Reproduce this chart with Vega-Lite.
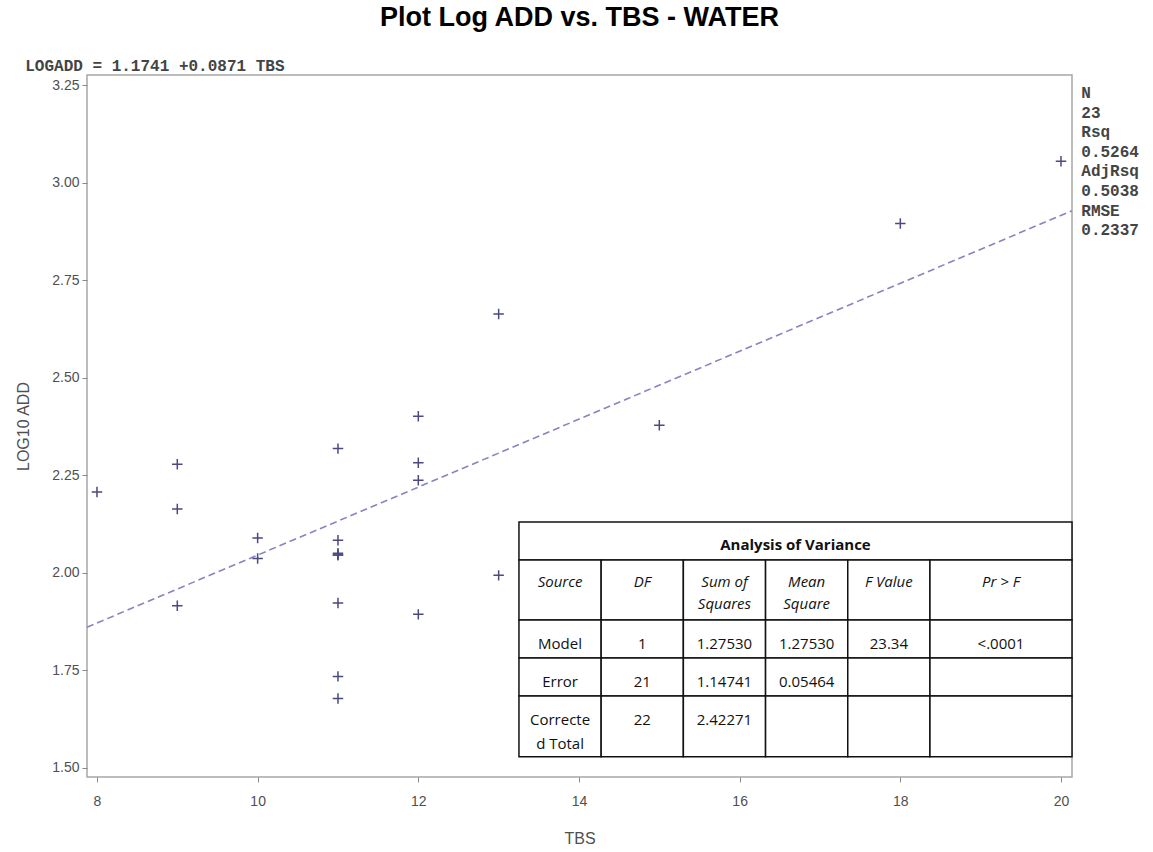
{
  "$schema": "https://vega.github.io/schema/vega-lite/v6.json",
  "width": 985,
  "height": 702,
  "autosize": {"type": "none"},
  "padding": {"left": 87, "top": 75, "right": 81, "bottom": 75},
  "background": "white",
  "title": {"text": "Plot Log ADD vs. TBS - WATER", "font": "Liberation Sans", "fontSize": 27, "fontWeight": "bold", "color": "#000000", "anchor": "middle", "frame": "group", "baseline": "alphabetic", "offset": 5},
  "config": {
    "view": {"stroke": "#a6a6a6", "strokeWidth": 1.5},
    "axis": {"domain": false, "grid": false, "tickColor": "#8a8a8a", "tickSize": 5, "labelFont": "Liberation Sans", "labelFontSize": 14, "labelColor": "#505050", "titleFont": "Liberation Sans", "titleFontSize": 16, "titleFontWeight": "normal", "titleColor": "#505050"}
  },
  "datasets": {
    "obs": [
      {"TBS": 8, "LOGADD": 2.207},
      {"TBS": 9, "LOGADD": 2.278}, {"TBS": 9, "LOGADD": 2.163}, {"TBS": 9, "LOGADD": 1.915},
      {"TBS": 10, "LOGADD": 2.089}, {"TBS": 10, "LOGADD": 2.036},
      {"TBS": 11, "LOGADD": 2.318}, {"TBS": 11, "LOGADD": 2.083}, {"TBS": 11, "LOGADD": 2.05}, {"TBS": 11, "LOGADD": 2.045}, {"TBS": 11, "LOGADD": 2.045}, {"TBS": 11, "LOGADD": 1.922}, {"TBS": 11, "LOGADD": 1.734}, {"TBS": 11, "LOGADD": 1.677},
      {"TBS": 12, "LOGADD": 2.401}, {"TBS": 12, "LOGADD": 2.282}, {"TBS": 12, "LOGADD": 2.237}, {"TBS": 12, "LOGADD": 1.893},
      {"TBS": 13, "LOGADD": 2.663}, {"TBS": 13, "LOGADD": 1.993},
      {"TBS": 15, "LOGADD": 2.378},
      {"TBS": 18, "LOGADD": 2.895},
      {"TBS": 20, "LOGADD": 3.055}
    ],
    "fit": [
      {"TBS": 7.876, "LOGADD": 1.8601},
      {"TBS": 20.137, "LOGADD": 2.9280}
    ],
    "eq": [{"label": "LOGADD = 1.1741 +0.0871 TBS"}],
    "stats": [
      {"k": 0, "t": "N"}, {"k": 1, "t": "23"},
      {"k": 2, "t": "Rsq"}, {"k": 3, "t": "0.5264"},
      {"k": 4, "t": "AdjRsq"}, {"k": 5, "t": "0.5038"},
      {"k": 6, "t": "RMSE"}, {"k": 7, "t": "0.2337"}
    ],
    "cells": [
      {"row": "title", "col": "all", "text": "Analysis of Variance"},
      {"row": "head", "col": "Source", "text": "Source"},
      {"row": "head", "col": "DF", "text": "DF"},
      {"row": "head", "col": "SS", "text": "Sum of\nSquares"},
      {"row": "head", "col": "MS", "text": "Mean\nSquare"},
      {"row": "head", "col": "F", "text": "F Value"},
      {"row": "head", "col": "P", "text": "Pr > F"},
      {"row": "model", "col": "Source", "text": "Model"},
      {"row": "model", "col": "DF", "text": "1"},
      {"row": "model", "col": "SS", "text": "1.27530"},
      {"row": "model", "col": "MS", "text": "1.27530"},
      {"row": "model", "col": "F", "text": "23.34"},
      {"row": "model", "col": "P", "text": "<.0001"},
      {"row": "error", "col": "Source", "text": "Error"},
      {"row": "error", "col": "DF", "text": "21"},
      {"row": "error", "col": "SS", "text": "1.14741"},
      {"row": "error", "col": "MS", "text": "0.05464"},
      {"row": "error", "col": "F", "text": ""},
      {"row": "error", "col": "P", "text": ""},
      {"row": "total", "col": "Source", "text": "Correcte\nd Total"},
      {"row": "total", "col": "DF", "text": "22"},
      {"row": "total", "col": "SS", "text": "2.42271"},
      {"row": "total", "col": "MS", "text": ""},
      {"row": "total", "col": "F", "text": ""},
      {"row": "total", "col": "P", "text": ""}
    ],
    "tcols": [
      {"col": "Source", "x0": 0, "x1": 1, "xm": 0.5},
      {"col": "DF", "x0": 1, "x1": 2, "xm": 1.5},
      {"col": "SS", "x0": 2, "x1": 3, "xm": 2.5},
      {"col": "MS", "x0": 3, "x1": 4, "xm": 3.5},
      {"col": "F", "x0": 4, "x1": 5, "xm": 4.5},
      {"col": "P", "x0": 5, "x1": 6.728, "xm": 5.864},
      {"col": "all", "x0": 0, "x1": 6.728, "xm": 3.364}
    ],
    "trows": [
      {"row": "title", "y0": 0, "y1": 1, "yt": 0.42},
      {"row": "head", "y0": 1, "y1": 2.58, "yt": 1.40},
      {"row": "model", "y0": 2.58, "y1": 3.58, "yt": 3.03},
      {"row": "error", "y0": 3.58, "y1": 4.58, "yt": 4.03},
      {"row": "total", "y0": 4.58, "y1": 6.18, "yt": 5.03}
    ]
  },
  "layer": [
    {
      "layer": [
        {
          "data": {"name": "fit"},
          "mark": {"type": "line", "strokeDash": [7, 4], "color": "#8585c0", "strokeWidth": 1.6},
          "encoding": {
            "x": {"field": "TBS", "type": "quantitative", "scale": {"domain": [7.876, 20.137], "nice": false, "zero": false},
                  "axis": {"title": "TBS", "values": [8, 10, 12, 14, 16, 18, 20], "format": "d", "labelPadding": 12, "titlePadding": 22}},
            "y": {"field": "LOGADD", "type": "quantitative", "scale": {"domain": [1.476, 3.276], "nice": false, "zero": false},
                  "axis": {"title": "LOG10 ADD", "values": [1.5, 1.75, 2, 2.25, 2.5, 2.75, 3, 3.25], "format": ".2f", "labelPadding": 3, "titlePadding": 20}}
          }
        },
        {
          "data": {"name": "obs"},
          "mark": {"type": "point", "shape": "M-1,0L1,0M0,-1L0,1", "size": 110, "filled": false, "color": "#4a4a80", "strokeWidth": 1.5, "opacity": 1},
          "encoding": {
            "x": {"field": "TBS", "type": "quantitative"},
            "y": {"field": "LOGADD", "type": "quantitative"}
          }
        },
        {
          "data": {"name": "eq"},
          "mark": {"type": "text", "align": "left", "baseline": "middle", "font": "Liberation Mono", "fontSize": 16, "fontWeight": "bold", "color": "#444444"},
          "encoding": {
            "x": {"datum": 7.1074, "type": "quantitative"},
            "y": {"datum": 3.2987, "type": "quantitative"},
            "text": {"field": "label"}
          }
        }
      ]
    },
    {
      "data": {"name": "stats"},
      "mark": {"type": "text", "align": "left", "baseline": "middle", "font": "Liberation Mono", "fontSize": 16, "fontWeight": "bold", "color": "#444444"},
      "encoding": {
        "x": {"datum": 20.253, "type": "quantitative", "scale": {"domain": [7.876, 20.137], "nice": false, "zero": false}, "axis": null},
        "y": {"field": "k", "type": "quantitative", "scale": {"domain": [-0.918, 34.898], "reverse": true, "nice": false, "zero": false}, "axis": null},
        "text": {"field": "t"}
      }
    },
    {
      "data": {"name": "cells"},
      "transform": [
        {"lookup": "col", "from": {"data": {"name": "tcols"}, "key": "col", "fields": ["x0", "x1", "xm"]}},
        {"lookup": "row", "from": {"data": {"name": "trows"}, "key": "row", "fields": ["y0", "y1", "yt"]}}
      ],
      "layer": [
        {
          "mark": {"type": "rect", "fill": "white", "stroke": "#111111", "strokeWidth": 1.5},
          "encoding": {
            "x": {"field": "x0", "type": "quantitative", "scale": {"domain": [-5.255, 6.728], "nice": false, "zero": false}, "axis": null},
            "x2": {"field": "x1"},
            "y": {"field": "y0", "type": "quantitative", "scale": {"domain": [-11.763, 6.711], "reverse": true, "nice": false, "zero": false}, "axis": null},
            "y2": {"field": "y1"}
          }
        },
        {
          "transform": [{"filter": {"field": "row", "oneOf": ["model", "error", "total"]}}],
          "mark": {"type": "text", "align": "center", "baseline": "top", "font": "Open Sans", "fontSize": 15, "lineBreak": "\n", "lineHeight": 24, "color": "#111111"},
          "encoding": {
            "x": {"field": "xm", "type": "quantitative"},
            "y": {"field": "yt", "type": "quantitative"},
            "text": {"field": "text"}
          }
        },
        {
          "transform": [{"filter": {"field": "row", "equal": "head"}}],
          "mark": {"type": "text", "align": "center", "baseline": "top", "font": "Open Sans", "fontSize": 15, "fontStyle": "italic", "lineBreak": "\n", "lineHeight": 22, "color": "#111111"},
          "encoding": {
            "x": {"field": "xm", "type": "quantitative"},
            "y": {"field": "yt", "type": "quantitative"},
            "text": {"field": "text"}
          }
        },
        {
          "transform": [{"filter": {"field": "row", "equal": "title"}}],
          "mark": {"type": "text", "align": "center", "baseline": "top", "font": "Open Sans", "fontSize": 15, "fontWeight": "bold", "color": "#111111"},
          "encoding": {
            "x": {"field": "xm", "type": "quantitative"},
            "y": {"field": "yt", "type": "quantitative"},
            "text": {"field": "text"}
          }
        }
      ]
    }
  ],
  "resolve": {"scale": {"x": "independent", "y": "independent"}}
}
